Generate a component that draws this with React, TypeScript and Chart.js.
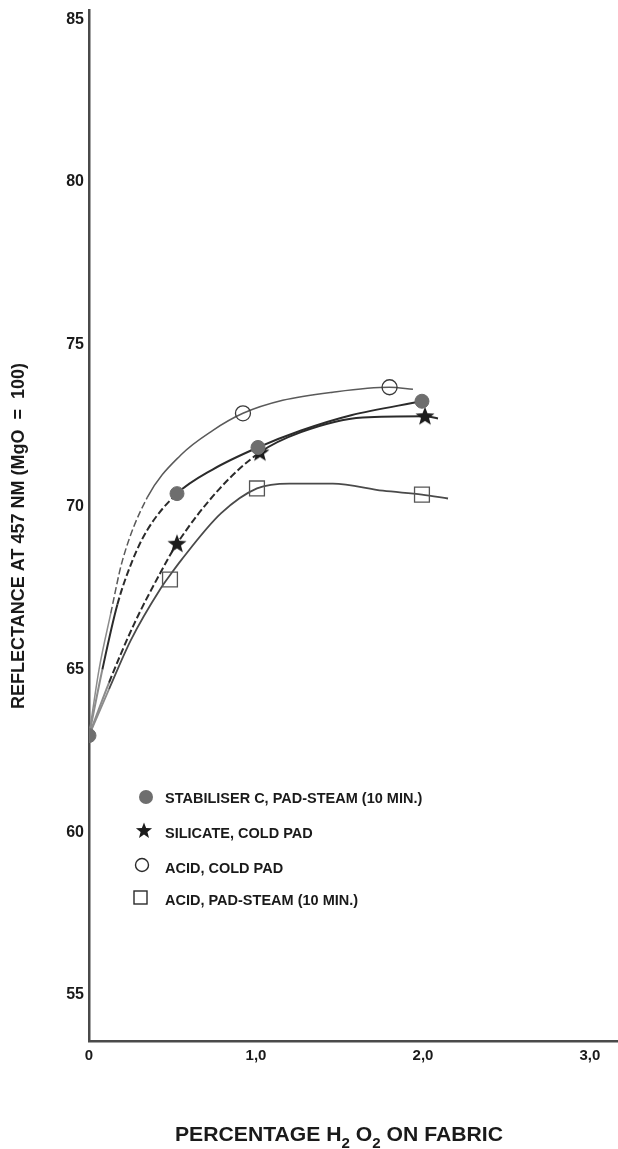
import React, { useEffect, useRef } from 'react';
import { Chart, registerables } from 'chart.js';

Chart.register(...registerables);

// ---------- data ----------
const xTickValues = [0, 1, 2, 3];
const xTickLabels = ['0', '1,0', '2,0', '3,0'];
const yTickValues = [55, 60, 65, 70, 75, 80, 85];

// measured points (markers)
const stabX = [0, 0.527, 1.012, 1.994];
const stabY = [62.97, 70.41, 71.83, 73.25];
const silX = [0.527, 1.024, 2.012];
const silY = [68.87, 71.68, 72.79];
const acidColdX = [0.922, 1.8];
const acidColdY = [72.88, 73.68];
const acidSteamX = [0.485, 1.006, 1.994];
const acidSteamY = [67.77, 70.57, 70.38];

// hand-drawn curves
const stabCurveX = [0, 0.08, 0.17, 0.26, 0.35, 0.527, 0.74, 1.012, 1.27, 1.57, 1.994];
const stabCurveY = [62.97, 65.0, 67.0, 68.35, 69.3, 70.41, 71.15, 71.83, 72.35, 72.82, 73.25];
const silCurveX = [0, 0.12, 0.27, 0.43, 0.527, 0.78, 1.024, 1.27, 1.64, 2.012, 2.09];
const silCurveY = [62.97, 64.6, 66.4, 68.0, 68.87, 70.55, 71.68, 72.3, 72.75, 72.79, 72.72];
const acidColdCurveX = [0, 0.06, 0.13, 0.2, 0.35, 0.55, 0.74, 0.922, 1.16, 1.46, 1.8, 1.94];
const acidColdCurveY = [62.97, 65.0, 66.72, 68.35, 70.3, 71.6, 72.35, 72.88, 73.28, 73.53, 73.68, 73.62];
const acidSteamCurveX = [0, 0.12, 0.25, 0.43, 0.485, 0.55, 0.79, 1.006, 1.2, 1.46, 1.76, 1.994, 2.15];
const acidSteamCurveY = [62.97, 64.4, 65.9, 67.5, 67.9, 68.35, 69.8, 70.57, 70.72, 70.72, 70.5, 70.38, 70.26];

const legendLabels = [
  'STABILISER C, PAD-STEAM (10 MIN.)',
  'SILICATE, COLD PAD',
  'ACID, COLD PAD',
  'ACID, PAD-STEAM (10 MIN.)',
];

const W = 618;
const H = 1149;
const FONT = "'Liberation Sans', Arial, Helvetica, sans-serif";

const pts = (xs: number[], ys: number[]) => xs.map((x, i) => ({ x, y: ys[i] }));

function starPath(ctx: CanvasRenderingContext2D, cx: number, cy: number, ro: number, ri: number) {
  ctx.beginPath();
  for (let i = 0; i < 10; i++) {
    const r = i % 2 === 0 ? ro : ri;
    const a = -Math.PI / 2 + (i * Math.PI) / 5;
    const px = cx + r * Math.cos(a);
    const py = cy + r * Math.sin(a);
    if (i === 0) ctx.moveTo(px, py);
    else ctx.lineTo(px, py);
  }
  ctx.closePath();
}

export default function App() {
  const ref = useRef<HTMLCanvasElement>(null);

  useEffect(() => {
    if (!ref.current) return;

    const star = document.createElement('canvas');
    star.width = 22;
    star.height = 22;
    const sc = star.getContext('2d')!;
    sc.fillStyle = '#1c1c1c';
    starPath(sc, 11, 11.5, 10, 4.2);
    sc.fill();

    const dashIn = (lo: number, hi: number) => (ctx: any) =>
      ctx.p0.parsed.x >= lo - 1e-9 && ctx.p1.parsed.x <= hi + 1e-9 ? [7, 3] : [];
    const greyNear = (base: string) => (ctx: any) => (ctx.p1.parsed.x <= 0.13 ? '#8c8c8c' : base);

    const overlay = {
      id: 'overlay',
      afterDraw(chart: any) {
        const ctx: CanvasRenderingContext2D = chart.ctx;
        ctx.save();
        ctx.fillStyle = '#1a1a1a';

        // y axis title
        ctx.save();
        ctx.translate(19, 536);
        ctx.rotate(-Math.PI / 2);
        ctx.font = `bold 18px ${FONT}`;
        ctx.textAlign = 'center';
        ctx.textBaseline = 'middle';
        ctx.fillText('REFLECTANCE AT 457 NM (MgO  =  100)', 0, 0);
        ctx.restore();

        // x axis title with subscripts
        ctx.save();
        const big = `bold 21px ${FONT}`;
        const small = `bold 15px ${FONT}`;
        const parts: [string, boolean][] = [
          ['PERCENTAGE H', false],
          ['2', true],
          [' O', false],
          ['2', true],
          [' ON FABRIC', false],
        ];
        let total = 0;
        const widths = parts.map(([t, sub]) => {
          ctx.font = sub ? small : big;
          const w = ctx.measureText(t).width;
          total += w;
          return w;
        });
        const target = 328;
        const sx = target / total;
        ctx.translate(175, 1141);
        ctx.scale(sx, 1);
        ctx.textBaseline = 'alphabetic';
        ctx.textAlign = 'left';
        let cx = 0;
        parts.forEach(([t, sub], i) => {
          ctx.font = sub ? small : big;
          ctx.fillText(t, cx, sub ? 7 : 0);
          cx += widths[i];
        });
        ctx.restore();

        // legend
        const rows = [798, 833, 868, 900];
        ctx.font = `bold 14.5px ${FONT}`;
        ctx.textAlign = 'left';
        ctx.textBaseline = 'middle';
        legendLabels.forEach((lab, i) => {
          ctx.fillStyle = '#1a1a1a';
          ctx.fillText(lab, 165, rows[i] + 1);
        });
        // symbols
        ctx.fillStyle = '#6e6e6e';
        ctx.beginPath();
        ctx.arc(146, rows[0] - 1, 7, 0, Math.PI * 2);
        ctx.fill();
        ctx.fillStyle = '#1c1c1c';
        starPath(ctx, 144, rows[1] - 2, 8.5, 3.6);
        ctx.fill();
        ctx.strokeStyle = '#2a2a2a';
        ctx.lineWidth = 1.4;
        ctx.beginPath();
        ctx.arc(142, rows[2] - 3, 6.5, 0, Math.PI * 2);
        ctx.stroke();
        ctx.strokeRect(134, rows[3] - 9, 13, 13);
        ctx.restore();
      },
    };

    const chart = new Chart(ref.current, {
      type: 'line',
      data: {
        datasets: [
          {
            label: legendLabels[0],
            data: pts(stabX, stabY),
            showLine: false,
            pointStyle: 'circle',
            pointRadius: 7,
            pointBackgroundColor: '#6e6e6e',
            pointBorderColor: '#6e6e6e',
            pointBorderWidth: 1,
            order: 1,
          },
          {
            label: legendLabels[1],
            data: pts(silX, silY),
            showLine: false,
            pointStyle: star as any,
            pointRadius: 10,
            order: 1,
          },
          {
            label: legendLabels[2],
            data: pts(acidColdX, acidColdY),
            showLine: false,
            pointStyle: 'circle',
            pointRadius: 7.5,
            pointBackgroundColor: 'rgba(255,255,255,0)',
            pointBorderColor: '#3a3a3a',
            pointBorderWidth: 1.3,
            order: 1,
          },
          {
            label: legendLabels[3],
            data: pts(acidSteamX, acidSteamY),
            showLine: false,
            pointStyle: 'rect',
            pointRadius: 10.5,
            pointBackgroundColor: 'rgba(255,255,255,0)',
            pointBorderColor: '#555555',
            pointBorderWidth: 1.3,
            order: 1,
          },
          {
            label: 'stab curve',
            data: pts(stabCurveX, stabCurveY),
            borderColor: '#2b2b2b',
            borderWidth: 2,
            pointRadius: 0,
            cubicInterpolationMode: 'monotone',
            segment: { borderDash: dashIn(0.1, 0.53), borderColor: greyNear('#2b2b2b') },
            order: 2,
          },
          {
            label: 'sil curve',
            data: pts(silCurveX, silCurveY),
            borderColor: '#2b2b2b',
            borderWidth: 2,
            pointRadius: 0,
            cubicInterpolationMode: 'monotone',
            segment: { borderDash: dashIn(0.1, 1.03), borderColor: greyNear('#2b2b2b') },
            order: 2,
          },
          {
            label: 'acid cold curve',
            data: pts(acidColdCurveX, acidColdCurveY),
            borderColor: '#5a5a5a',
            borderWidth: 1.5,
            pointRadius: 0,
            cubicInterpolationMode: 'monotone',
            segment: { borderDash: dashIn(0.1, 0.36), borderColor: greyNear('#5a5a5a') },
            order: 2,
          },
          {
            label: 'acid steam curve',
            data: pts(acidSteamCurveX, acidSteamCurveY),
            borderColor: '#4a4a4a',
            borderWidth: 1.8,
            pointRadius: 0,
            cubicInterpolationMode: 'monotone',
            segment: { borderColor: greyNear('#4a4a4a') },
            order: 2,
          },
        ],
      },
      options: {
        responsive: false,
        animation: false,
        events: [],
        layout: { autoPadding: false, padding: { top: 10, right: 0, left: 0, bottom: 0 } },
        plugins: {
          legend: { display: false },
          tooltip: { enabled: false },
          title: { display: false },
        },
        scales: {
          x: {
            type: 'linear',
            min: 0,
            max: 3.168,
            afterBuildTicks: (s: any) => {
              s.ticks = xTickValues.map((v) => ({ value: v }));
            },
            afterFit: (s: any) => {
              s.height = 108;
              s.paddingLeft = 0;
              s.paddingRight = 0;
            },
            ticks: {
              autoSkip: false,
              maxRotation: 0,
              padding: 6,
              color: '#1a1a1a',
              font: { family: FONT, size: 15, weight: 'bold' },
              callback: (v: any) => {
                const i = xTickValues.indexOf(Number(v));
                return i >= 0 ? xTickLabels[i] : '';
              },
            },
            grid: { display: false, drawTicks: false },
            border: { display: true, color: '#4a4a4a', width: 2.5 },
          },
          y: {
            type: 'linear',
            min: 53.58,
            max: 85.28,
            afterBuildTicks: (s: any) => {
              s.ticks = yTickValues.map((v) => ({ value: v }));
            },
            afterFit: (s: any) => {
              s.width = 89;
              s.paddingTop = 0;
              s.paddingBottom = 0;
            },
            ticks: {
              autoSkip: false,
              padding: 5,
              color: '#1a1a1a',
              font: { family: FONT, size: 16, weight: 'bold' },
              callback: (v: any) => String(v),
            },
            grid: { display: false, drawTicks: false },
            border: { display: true, color: '#4a4a4a', width: 2.5 },
          },
        },
      },
      plugins: [overlay],
    } as any);

    return () => chart.destroy();
  }, []);

  return (
    <div style={{ position: 'absolute', left: 0, top: 0, width: W, height: H, background: '#fff' }}>
      <canvas ref={ref} width={W} height={H} style={{ display: 'block', width: W, height: H }} />
    </div>
  );
}
